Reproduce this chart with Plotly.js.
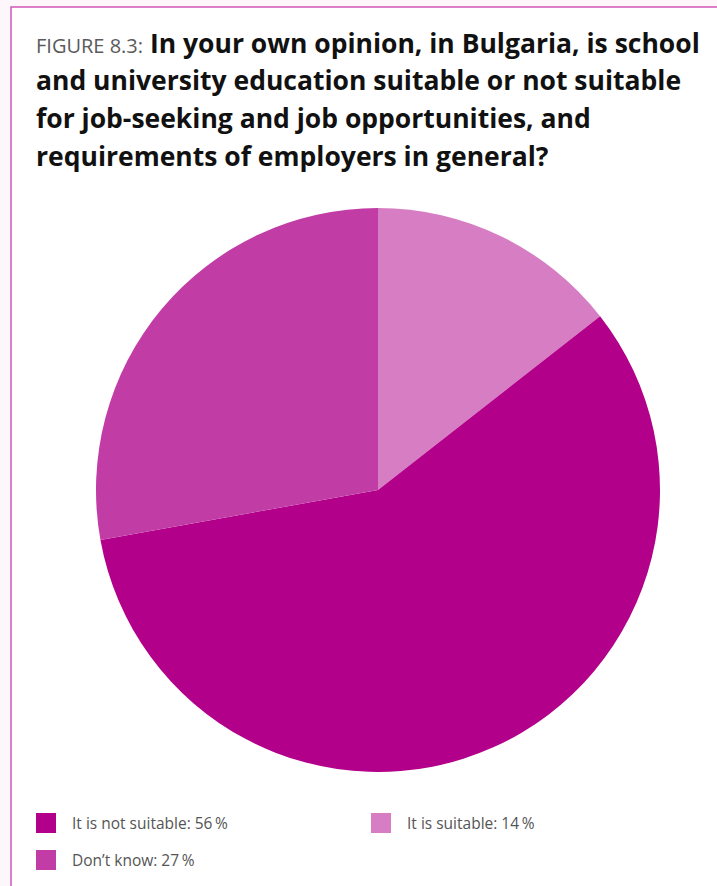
<!DOCTYPE html>
<html>
<head>
<meta charset="utf-8">
<script src="https://cdn.plot.ly/plotly-3.0.1.min.js"></script>
<style>html,body{margin:0;padding:0;background:#fdf6fb;}#chart{width:717px;height:886px;}</style>
</head>
<body>
<div id="chart"></div>
<script>
// Data
var sliceLabels = ["It is suitable", "It is not suitable", "Don\u2019t know"];
var sliceValues = [14, 56, 27];
var sliceColors = ["#d67dc3", "#b3008a", "#c23ca6"];
// Legend order as in the reference
var legendOrder = [1, 0, 2];
var titlePrefix = "FIGURE 8.3:";
var titleLines = [
  "In your own opinion, in Bulgaria, is school",
  "and university education suitable or not suitable",
  "for job-seeking and job opportunities, and",
  "requirements of employers in general?"
];

var W = 717, H = 886;
function px(x){ return x / W; }
function py(y){ return 1 - y / H; }

var data = [{
  type: "pie",
  labels: sliceLabels,
  values: sliceValues,
  marker: { colors: sliceColors, line: { width: 0 } },
  sort: false,
  direction: "clockwise",
  rotation: 0,
  textinfo: "none",
  hoverinfo: "label+percent",
  showlegend: false,
  domain: { x: [px(96), px(660)], y: [py(772), py(208)] }
}];

var shapes = [{
  type: "rect", xref: "paper", yref: "paper",
  x0: px(11), x1: px(730), y0: py(7), y1: py(900),
  fillcolor: "#ffffff", line: { color: "#cf55b6", width: 1.5 }, layer: "below"
}];

var annotations = [];
var lineY = [43, 80, 118, 156];
titleLines.forEach(function(t, i){
  var txt = (i === 0)
    ? "<span style='font-size:20px;color:#5a5a5a;font-weight:normal'>" + titlePrefix + "</span> <b>" + t + "</b>"
    : "<b>" + t + "</b>";
  annotations.push({
    xref: "paper", yref: "paper", x: px(34), y: py(lineY[i]),
    xanchor: "left", yanchor: "middle", showarrow: false,
    text: txt, font: { family: "Open Sans, sans-serif", size: 26.5, color: "#111111" }
  });
});

// Legend positions: two columns
var legPos = [[36, 823], [371, 823], [36, 860]];
legendOrder.forEach(function(idx, k){
  var p = legPos[k];
  shapes.push({
    type: "rect", xref: "paper", yref: "paper",
    x0: px(p[0]), x1: px(p[0] + 20), y0: py(p[1] - 10), y1: py(p[1] + 10),
    fillcolor: sliceColors[idx], line: { width: 0 }
  });
  annotations.push({
    xref: "paper", yref: "paper", x: px(p[0] + 34), y: py(p[1]),
    xanchor: "left", yanchor: "middle", showarrow: false,
    text: sliceLabels[idx] + ": " + sliceValues[idx] + "\u2009%",
    font: { family: "Open Sans, sans-serif", size: 15.5, color: "#555555" }
  });
});

var layout = {
  width: W, height: H,
  margin: { l: 0, r: 0, t: 0, b: 0 },
  paper_bgcolor: "#fdf6fb",
  shapes: shapes,
  annotations: annotations
};

Plotly.newPlot("chart", data, layout, { displayModeBar: false, staticPlot: true });
</script>
</body>
</html>
